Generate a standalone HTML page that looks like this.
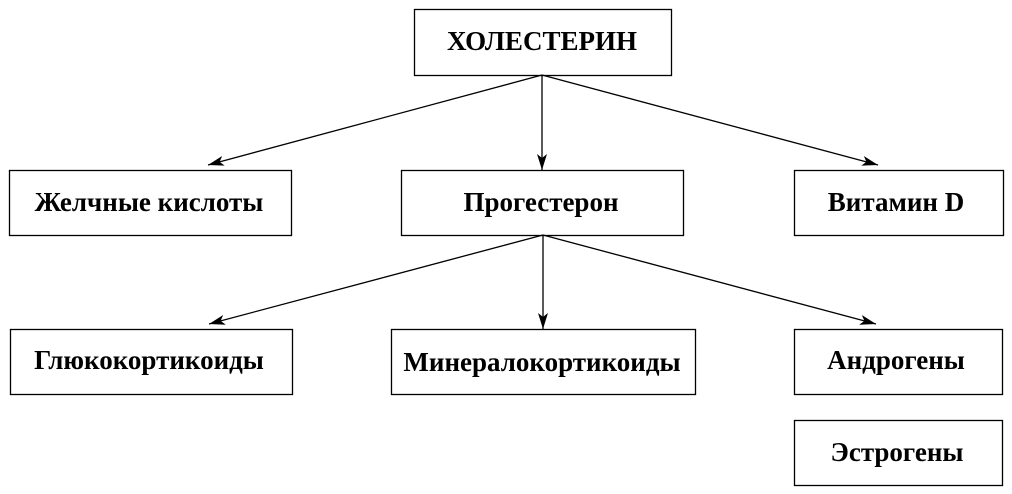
<!DOCTYPE html>
<html><head><meta charset="utf-8"><style>
html,body{margin:0;padding:0;background:#fff;width:1012px;height:494px;overflow:hidden}
svg{display:block}
text{font-family:"Liberation Serif",serif;font-weight:bold;font-size:27px;fill:#000}
</style></head><body>
<svg width="1012" height="494" viewBox="0 0 1012 494">
<defs><marker id="a" viewBox="0 0 16 10" refX="16" refY="5" markerWidth="16" markerHeight="10" markerUnits="userSpaceOnUse" orient="auto"><path d="M0,0 L16,5 L0,10 L4,5 Z" fill="#000"/></marker></defs>
<g fill="none" stroke="#000" stroke-width="1.3">
<rect x="414.5" y="9.5" width="257" height="66"/>
<rect x="9.5" y="170.5" width="282" height="65"/>
<rect x="401.5" y="170.5" width="282" height="65"/>
<rect x="794.5" y="170.5" width="209" height="65"/>
<rect x="10.5" y="329.5" width="282" height="65"/>
<rect x="391.5" y="329.5" width="304" height="65"/>
<rect x="794.5" y="329.5" width="208" height="65"/>
<rect x="794.5" y="420.5" width="208" height="65"/>
<line x1="542" y1="75" x2="208" y2="165" marker-end="url(#a)"/>
<line x1="542" y1="75" x2="542" y2="170" marker-end="url(#a)"/>
<line x1="542" y1="75" x2="878" y2="165" marker-end="url(#a)"/>
<line x1="543" y1="235" x2="209" y2="324" marker-end="url(#a)"/>
<line x1="543" y1="235" x2="543" y2="329" marker-end="url(#a)"/>
<line x1="543" y1="235" x2="876" y2="324" marker-end="url(#a)"/>
</g>
<g text-anchor="middle">
<text x="542" y="50">ХОЛЕСТЕРИН</text>
<text x="149" y="211">Желчные кислоты</text>
<text x="541" y="211">Прогестерон</text>
<text x="896" y="211">Витамин D</text>
<text x="149" y="369">Глюкокортикоиды</text>
<text x="542" y="371">Минералокортикоиды</text>
<text x="896" y="369">Андрогены</text>
<text x="897" y="461">Эстрогены</text>
</g>
</svg>
</body></html>
